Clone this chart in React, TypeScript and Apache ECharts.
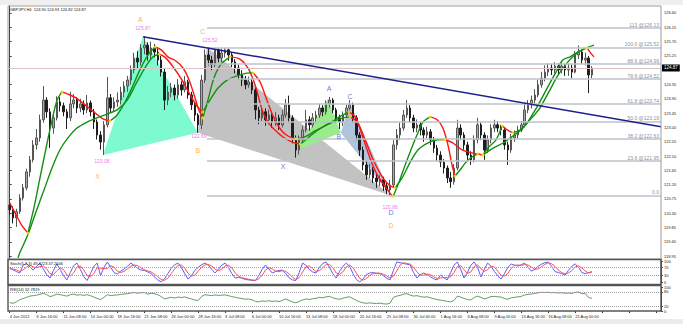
import React, { useEffect, useRef } from 'react';
import * as echarts from 'echarts';

const dateLabels = ['4 Jun 2012', '6 Jun 16:00', '11 Jun 08:00', '14 Jun 00:00', '18 Jun 16:00', '21 Jun 08:00', '26 Jun 00:00', '28 Jun 16:00', '3 Jul 08:00', '6 Jul 00:00', '10 Jul 16:00', '13 Jul 08:00', '18 Jul 00:00', '20 Jul 16:00', '25 Jul 08:00', '30 Jul 00:00', '1 Aug 16:00', '6 Aug 08:00', '9 Aug 00:00', '13 Aug 16:00', '16 Aug 08:00', '21 Aug 00:00'];

const firstOpen = 120.56;
const closes = [
  120.41, 120.15, 120.35, 120.78, 121.10, 121.60, 121.98, 122.45, 122.67, 123.24,
  123.86, 123.49, 122.98, 123.30, 123.80, 123.68, 123.49, 123.30, 123.74, 123.86,
  123.61, 123.74, 123.55, 123.77, 123.49, 123.17, 122.76, 122.54, 123.08, 123.93,
  123.61, 123.80, 123.86, 124.11, 124.30, 124.49, 124.81, 125.18, 125.06, 125.50,
  125.59, 125.28, 125.50, 125.37, 125.12, 124.74, 123.86, 124.11, 124.24, 124.02,
  124.34, 124.18, 124.43, 124.02, 123.71, 123.39, 123.08, 124.49, 125.28, 125.12,
  124.98, 125.44, 125.18, 125.34, 125.44, 125.28, 125.06, 124.87, 124.65, 124.49,
  124.34, 124.43, 124.18, 123.55, 123.30, 123.49, 123.24, 123.39, 123.17, 123.30,
  123.08, 123.39, 123.71, 123.30, 122.67, 122.29, 122.61, 122.92, 123.24, 123.08,
  123.30, 123.39, 123.61, 123.49, 123.74, 123.86, 123.55, 123.30, 123.17, 123.39,
  123.61, 123.71, 123.30, 122.76, 122.29, 121.82, 121.51, 121.66, 121.41, 121.29,
  121.35, 121.16, 121.03, 121.19, 122.45, 122.76, 122.98, 123.39, 123.61, 123.30,
  122.98, 123.08, 122.92, 122.76, 122.86, 122.61, 122.35, 122.13, 121.91, 121.72,
  121.41, 121.29, 121.72, 122.98, 122.76, 122.45, 122.13, 121.98, 122.61, 123.08,
  122.76, 122.29, 122.61, 122.98, 123.08, 122.98, 122.92, 122.45, 122.29, 122.67,
  122.76, 122.92, 123.08, 123.55, 123.71, 123.86, 124.02, 124.34, 124.55, 124.74,
  124.87, 124.81, 124.93, 124.81, 124.93, 124.81, 124.87, 124.74, 125.28, 125.37,
  125.12, 125.18, 124.65, 124.87,
];
const highs = [
  120.66, 120.52, 120.44, 120.90, 121.22, 121.70, 122.10, 122.60, 122.95, 123.40,
  124.30, 123.95, 123.60, 123.45, 123.98, 123.95, 123.78, 123.58, 124.12, 124.05,
  123.95, 123.90, 123.85, 124.02, 123.85, 123.58, 123.25, 122.88, 123.20, 124.59,
  124.05, 123.95, 124.10, 124.28, 124.45, 124.62, 124.95, 125.35, 125.40, 125.62,
  125.87, 125.68, 125.70, 125.62, 125.48, 125.25, 124.85, 124.30, 124.40, 124.35,
  124.52, 124.45, 124.62, 124.50, 124.12, 123.80, 123.45, 124.65, 125.45, 125.52,
  125.25, 125.50, 125.50, 125.48, 125.50, 125.48, 125.35, 125.15, 124.98, 124.80,
  124.62, 124.60, 124.52, 124.25, 123.65, 123.65, 123.60, 123.55, 123.45, 123.48,
  123.40, 123.55, 123.90, 124.00, 123.38, 122.75, 122.75, 123.05, 123.55, 123.35,
  123.45, 123.52, 123.75, 123.70, 123.85, 123.96, 123.92, 123.62, 123.40, 123.50,
  123.72, 123.86, 123.78, 123.38, 122.85, 122.40, 121.95, 121.85, 121.75, 121.55,
  121.50, 121.45, 121.25, 121.35, 122.60, 122.95, 123.15, 123.55, 123.86, 123.70,
  123.40, 123.25, 123.18, 123.00, 123.02, 122.95, 122.70, 122.45, 122.25, 122.00,
  121.80, 121.60, 121.85, 123.24, 123.10, 122.85, 122.55, 122.25, 122.75, 123.30,
  123.15, 122.85, 122.75, 123.10, 123.24, 123.20, 123.08, 123.00, 122.55, 122.80,
  122.90, 123.05, 123.20, 123.75, 123.86, 124.00, 124.20, 124.50, 124.75, 124.95,
  125.02, 125.00, 125.05, 125.02, 125.06, 125.00, 125.00, 124.98, 125.40, 125.58,
  125.45, 125.35, 125.25, 124.93,
];
const lows = [
  120.25, 119.98, 119.87, 120.28, 120.70, 121.02, 121.45, 121.90, 122.30, 122.55,
  123.15, 123.30, 122.35, 122.80, 123.22, 123.50, 123.35, 122.95, 123.20, 123.60,
  123.45, 123.48, 123.40, 123.45, 123.35, 122.95, 122.62, 122.30, 122.13, 123.00,
  123.45, 123.50, 123.65, 123.72, 123.95, 124.12, 124.35, 124.70, 124.85, 124.95,
  125.30, 125.10, 125.15, 125.20, 124.95, 124.60, 123.55, 123.70, 123.95, 123.85,
  123.90, 124.00, 124.10, 123.90, 123.55, 123.20, 122.83, 122.95, 124.40, 124.95,
  124.80, 124.90, 125.05, 125.05, 125.20, 125.10, 124.90, 124.70, 124.50, 124.30,
  124.20, 124.25, 124.05, 123.25, 123.10, 123.20, 123.05, 123.15, 122.98, 123.05,
  122.92, 123.00, 123.30, 123.15, 122.50, 122.05, 122.15, 122.50, 122.85, 122.90,
  123.00, 123.15, 123.30, 123.35, 123.40, 123.62, 123.45, 123.15, 122.95, 123.05,
  123.30, 123.50, 123.15, 122.60, 122.10, 121.65, 121.35, 121.40, 121.25, 121.10,
  121.15, 121.00, 120.90, 120.86, 121.10, 122.30, 122.60, 122.90, 123.30, 123.15,
  122.85, 122.85, 122.75, 122.55, 122.65, 122.45, 122.20, 121.95, 121.75, 121.55,
  121.25, 121.10, 121.20, 121.65, 122.60, 122.30, 121.98, 121.82, 121.90, 122.50,
  122.60, 121.98, 122.20, 122.50, 122.85, 122.85, 122.75, 122.30, 121.82, 122.20,
  122.55, 122.65, 122.85, 123.00, 123.45, 123.60, 123.75, 123.95, 124.25, 124.45,
  124.62, 124.65, 124.70, 124.65, 124.70, 124.62, 124.62, 124.55, 124.70, 125.15,
  125.00, 124.95, 124.08, 124.55,
];

// moving averages as [bar, price]
const fastMA = [[0, 120.63], [1.9, 120.25], [3.7, 119.90], [5.4, 119.68], [7.2, 120.47], [9.0, 121.41], [10.8, 122.35], [12.6, 123.24], [14.1, 123.86], [15.5, 124.12], [17.3, 124.05], [19.7, 123.93], [22.4, 123.71], [25.3, 123.46], [27.7, 123.27], [29.8, 123.20], [31.9, 123.39], [34.3, 123.80], [36.3, 124.24], [38.7, 124.81], [41.1, 125.28], [43.2, 125.53], [45.0, 125.44], [47.0, 125.22], [49.4, 125.09], [51.5, 124.87], [53.3, 124.49], [54.8, 124.02], [56.2, 123.55], [57.4, 123.30], [58.9, 123.86], [60.7, 124.56], [62.8, 124.99], [65.5, 125.22], [68.4, 125.15], [71.1, 124.81], [73.2, 124.24], [75.0, 123.55], [76.7, 123.17], [78.8, 122.92], [81.2, 122.70], [83.9, 122.54], [86.3, 122.48], [88.0, 122.61], [90.1, 122.80], [93.1, 123.02], [96.1, 123.20], [98.4, 123.36], [100.8, 123.49], [102.9, 123.30], [104.7, 122.76], [106.2, 122.29], [107.7, 121.85], [109.4, 121.47], [111.2, 121.19], [112.7, 120.97], [113.9, 120.82], [115.7, 121.29], [117.4, 121.79], [119.2, 122.29], [121.0, 122.76], [122.8, 123.17], [124.9, 123.33], [127.0, 123.24], [128.7, 122.98], [130.2, 122.45], [131.4, 121.82], [132.3, 121.47], [133.8, 121.66], [135.6, 121.91], [137.3, 122.07], [139.1, 122.17], [140.6, 122.13], [142.4, 122.39], [144.5, 122.61], [146.3, 123.05], [147.8, 122.92], [149.5, 122.83], [151.6, 122.92], [153.7, 123.14], [155.8, 123.49], [157.8, 123.86], [160.2, 124.34], [162.3, 124.74], [164.3, 125.12], [166.5, 125.22], [168.8, 125.37], [171.5, 125.50], [172.4, 125.37], [173.6, 125.22]];
const slowMA = [[2.5, 118.90], [3.1, 119.08], [5.4, 119.62], [7.8, 120.34], [10.2, 121.03], [12.6, 121.73], [14.9, 122.29], [17.3, 122.67], [20.0, 122.98], [23.0, 123.17], [25.9, 123.30], [28.9, 123.42], [31.9, 123.55], [34.9, 123.86], [37.8, 124.43], [40.5, 124.93], [42.6, 125.22], [44.4, 125.31], [46.4, 125.18], [48.8, 124.87], [51.2, 124.49], [53.5, 124.05], [55.6, 123.68], [57.4, 123.49], [59.5, 123.86], [61.9, 124.24], [64.6, 124.49], [67.5, 124.62], [70.5, 124.71], [72.3, 124.72], [74.4, 124.43], [76.4, 123.86], [78.5, 123.30], [80.6, 122.92], [82.7, 122.73], [85.1, 122.64], [87.7, 122.70], [90.7, 122.89], [93.7, 123.05], [96.6, 123.20], [99.0, 123.30], [101.1, 123.33], [103.2, 123.17], [105.6, 122.61], [108.0, 121.98], [110.3, 121.51], [112.7, 121.19], [114.5, 121.10], [116.6, 121.41], [119.0, 121.91], [121.3, 122.29], [124.3, 122.51], [127.0, 122.61], [129.3, 122.62], [131.7, 122.51], [134.4, 122.29], [137.3, 122.20], [140.6, 122.13], [143.6, 122.35], [146.6, 122.51], [149.5, 122.73], [151.9, 122.92], [154.6, 123.24], [157.5, 123.61], [160.5, 124.18], [162.6, 124.59], [165.3, 124.99], [167.9, 125.28], [170.6, 125.47], [173.6, 125.59]];

const stochK = [
  67, 58, 50, 43, 80, 88, 72, 57, 75, 90, 62, 35, 19, 55, 86, 60, 30, 10, 45, 78,
  90, 60, 25, 7, 40, 75, 90, 30, 70, 95, 70, 45, 38, 52, 62, 75, 90, 78, 65, 57,
  55, 48, 40, 25, 10, 0, 15, 40, 65, 82, 90, 70, 40, 14, 30, 55, 70, 82, 90, 80,
  60, 43, 60, 80, 90, 70, 40, 19, 22, 18, 12, 10, 8, 7, 30, 60, 81, 62, 43, 50,
  55, 57, 40, 20, 10, 7, 45, 90, 80, 60, 48, 43, 70, 88, 95, 70, 40, 19, 50, 75,
  90, 75, 40, 12, 0, 15, 35, 43, 45, 40, 40, 30, 18, 10, 55, 95, 92, 88, 85, 81,
  45, 19, 35, 43, 35, 25, 15, 10, 33, 20, 10, 45, 80, 95, 60, 19, 45, 80, 95, 70,
  24, 60, 90, 75, 50, 30, 14, 40, 70, 86, 80, 76, 82, 90, 70, 52, 60, 75, 85, 92,
  95, 75, 50, 45, 40, 33, 55, 75, 86, 70, 45, 40, 45, 49,
];
const stochD = [
  62, 62, 58, 50, 58, 70, 80, 72, 68, 74, 76, 62, 39, 36, 53, 67, 59, 33, 28, 44,
  71, 76, 58, 31, 24, 41, 68, 65, 63, 65, 78, 70, 51, 45, 51, 63, 76, 81, 78, 67,
  59, 53, 48, 38, 25, 12, 8, 18, 40, 62, 79, 81, 67, 41, 28, 33, 52, 69, 81, 84,
  77, 61, 54, 61, 77, 80, 67, 43, 27, 20, 17, 13, 10, 8, 15, 32, 57, 68, 62, 52,
  49, 54, 51, 39, 23, 12, 21, 47, 72, 77, 63, 50, 54, 67, 84, 84, 68, 43, 36, 48,
  72, 80, 68, 42, 17, 9, 17, 31, 41, 43, 42, 37, 29, 19, 28, 53, 81, 92, 88, 85,
  70, 48, 33, 32, 38, 34, 25, 17, 19, 21, 21, 25, 45, 73, 78, 58, 41, 48, 73, 82,
  63, 51, 58, 75, 72, 52, 31, 28, 41, 65, 79, 81, 79, 83, 81, 71, 61, 62, 73, 84,
  91, 87, 74, 57, 45, 39, 43, 54, 72, 77, 67, 52, 43, 47,
];
const rsiValues = [
  35, 32, 38, 47, 52, 57, 62, 64, 66, 70, 74, 68, 60, 64, 70, 68, 65, 62, 68, 70,
  66, 68, 65, 68, 64, 58, 52, 48, 57, 68, 64, 66, 67, 69, 71, 72, 75, 77, 74, 76,
  77, 70, 74, 72, 68, 60, 50, 54, 57, 54, 58, 56, 59, 54, 50, 46, 44, 60, 68, 66,
  64, 67, 65, 66, 67, 64, 60, 57, 54, 52, 49, 50, 47, 40, 38, 42, 40, 43, 40, 42,
  39, 44, 50, 44, 38, 34, 40, 46, 50, 48, 51, 53, 57, 55, 59, 61, 55, 51, 49, 53,
  57, 59, 52, 44, 38, 34, 32, 34, 32, 31, 33, 30, 29, 32, 57, 62, 65, 70, 72, 66,
  62, 64, 60, 58, 59, 55, 51, 48, 45, 43, 40, 38, 44, 62, 58, 52, 48, 46, 56, 62,
  57, 50, 55, 60, 61, 59, 58, 52, 49, 55, 57, 59, 61, 67, 69, 71, 73, 76, 78, 77,
  78, 76, 77, 75, 76, 74, 75, 73, 78, 79, 72, 73, 56, 53,
];

const priceTicks = [126.6, 126.15, 125.7, 125.25, 124.35, 123.9, 123.45, 123.0, 122.55, 122.1, 121.65, 121.2, 120.75, 120.3, 119.85, 119.4, 118.95];
const stochTicks = [0, 30, 70, 100];
const rsiTicks = [0, 20, 80, 100];
const stochLevels = [30, 70];
const rsiLevels = [20, 80];

const fibNames = ['113 @126.13', '100.0 @125.52', '88.6 @124.99', '78.6 @124.52', '61.8 @123.74', '50.0 @123.19', '38.2 @122.63', '23.6 @121.95', '0.0'];
const fibValues = [126.13, 125.52, 124.99, 124.52, 123.74, 123.19, 122.63, 121.95, 120.86];
const fibStartBar = 58.6;

const trendLine = [[39.6, 125.85], [193.5, 123.02]];
const lastPrice = 124.87;

const patternTriangles = [
  [[27.7, 122.13], [39.6, 125.87], [55.9, 122.83]],
  [[55.9, 122.83], [58.6, 125.52], [113.3, 120.86]],
  [[85.4, 122.29], [94.6, 123.90], [98.4, 122.83]],
  [[98.4, 122.83], [101.1, 123.77], [113.6, 120.81]],
];
const patternLabels = [
  { t: 'A', p: [38.8, 126.41], k: 'orange' },
  { t: '125.87', p: [39.6, 126.13], k: 'price' },
  { t: 'C', p: [57.4, 126.03], k: 'orange' },
  { t: '125.52', p: [59.5, 125.75], k: 'price' },
  { t: '122.69', p: [56.2, 122.74], k: 'price' },
  { t: 'B', p: [55.9, 122.26], k: 'orange' },
  { t: '123.08', p: [27.4, 121.93], k: 'price' },
  { t: 'X', p: [26.1, 121.47], k: 'orange' },
  { t: '120.86', p: [113.0, 120.50], k: 'price' },
  { t: 'D', p: [113.3, 120.31], k: 'blue' },
  { t: 'D', p: [113.3, 119.90], k: 'orange' },
  { t: 'A', p: [94.9, 124.24], k: 'blue' },
  { t: 'C', p: [101.1, 123.96], k: 'blue' },
  { t: 'B', p: [97.8, 122.70], k: 'blue' },
  { t: 'X', p: [81.2, 121.76], k: 'blue' },
];

const N = 194;
const FONT = 'Liberation Sans, Arial, sans-serif';
const triColors = ['#7dfad0', '#c2c2c2', '#98ec8c', '#aec4de'];
const labelStyles: Record<string, { color: string; size: number }> = {
  orange: { color: '#ff9a1e', size: 7 },
  price: { color: '#f04cf0', size: 5 },
  blue: { color: '#4e4ed0', size: 7 },
};

function splitBySlope(pts: number[][]) {
  const segs: { dir: number; pts: number[][] }[] = [];
  const turns: number[][] = [];
  let cur = [pts[0]];
  let dir = 0;
  for (let i = 1; i < pts.length; i++) {
    const d = Math.sign(pts[i][1] - pts[i - 1][1]);
    if (dir !== 0 && d !== 0 && d !== dir) {
      segs.push({ dir, pts: cur });
      turns.push(pts[i - 1]);
      cur = [pts[i - 1]];
    }
    if (d !== 0) dir = d;
    cur.push(pts[i]);
  }
  segs.push({ dir, pts: cur });
  return { segs, turns };
}

export default function App() {
  const ref = useRef<HTMLDivElement>(null);
  useEffect(() => {
    const chart = echarts.init(ref.current!, null, { renderer: 'svg' });
    const cats = Array.from({ length: N }, (_, i) => 'b' + i);
    const ohlc = closes.map((c, i) => [i === 0 ? firstOpen : closes[i - 1], c, lows[i], highs[i]]);

    const maSeries: any[] = [];
    const turnPts: number[][] = [];
    [fastMA, slowMA].forEach((ma) => {
      const { segs, turns } = splitBySlope(ma);
      segs.forEach((s) => {
        maSeries.push({
          type: 'line', xAxisIndex: 1, yAxisIndex: 0, data: s.pts, symbol: 'none', smooth: 0.3, silent: true, z: 4,
          lineStyle: { color: s.dir > 0 ? '#138f13' : '#ff1414', width: 1.4 },
        });
      });
      turnPts.push(...turns);
    });

    const dotted = { type: 'dotted', color: '#a0a0a0', width: 1 };

    const option: any = {
      animation: false,
      textStyle: { fontFamily: FONT },
      grid: [
        { left: 8, top: 6, width: 653, height: 253 },
        { left: 8, top: 261, width: 653, height: 21 },
        { left: 8, top: 287, width: 653, height: 24 },
      ],
      xAxis: [
        { type: 'category', gridIndex: 0, data: cats, boundaryGap: true, show: false },
        { type: 'value', gridIndex: 0, min: -0.5, max: N - 0.5, show: false },
        { type: 'category', gridIndex: 1, data: cats, boundaryGap: true, show: false },
        {
          type: 'category', gridIndex: 2, data: cats, boundaryGap: true,
          axisLine: { show: false },
          axisTick: { show: true, interval: 7, alignWithLabel: true, length: 2, lineStyle: { color: '#333' } },
          axisLabel: {
            interval: 7, align: 'left', fontSize: 4, color: '#222', margin: 3, fontFamily: FONT,
            formatter: (_v: string, idx: number) => (idx % 8 === 0 ? dateLabels[idx / 8] ?? '' : ''),
          },
        },
      ],
      yAxis: [
        {
          type: 'value', gridIndex: 0, position: 'right', min: 118.86, max: 126.82, splitLine: { show: false },
          axisLine: { show: true, lineStyle: { color: '#444' } },
          axisTick: { show: true, customValues: priceTicks, length: 2, lineStyle: { color: '#444' } },
          axisLabel: { customValues: priceTicks, formatter: (v: number) => v.toFixed(2), fontSize: 4, color: '#222', margin: 3, fontFamily: FONT },
        },
        {
          type: 'value', gridIndex: 1, position: 'right', min: 0, max: 100, splitLine: { show: false },
          axisLine: { show: true, lineStyle: { color: '#444' } },
          axisTick: { show: true, customValues: stochTicks, length: 2, lineStyle: { color: '#444' } },
          axisLabel: { customValues: stochTicks, fontSize: 4, color: '#222', margin: 3, fontFamily: FONT },
        },
        {
          type: 'value', gridIndex: 2, position: 'right', min: 0, max: 100, splitLine: { show: false },
          axisLine: { show: true, lineStyle: { color: '#444' } },
          axisTick: { show: true, customValues: rsiTicks, length: 2, lineStyle: { color: '#444' } },
          axisLabel: { customValues: rsiTicks, fontSize: 4, color: '#222', margin: 3, fontFamily: FONT },
        },
      ],
      series: [
        {
          type: 'custom', xAxisIndex: 1, yAxisIndex: 0, z: 1, silent: true,
          data: patternTriangles.map((t, i) => [t[0][0], t[0][1], i]),
          renderItem: (params: any, api: any) => {
            const tri = patternTriangles[params.dataIndex];
            return {
              type: 'polygon',
              shape: { points: tri.map((p) => api.coord(p)) },
              style: { fill: triColors[params.dataIndex], stroke: 'none' },
            };
          },
        },
        {
          type: 'line', xAxisIndex: 1, yAxisIndex: 0, z: 1, silent: true, symbol: 'none',
          data: [[fibStartBar, fibValues[0]]],
          markLine: {
            silent: true, symbol: ['none', 'none'], animation: false,
            lineStyle: { color: '#bcc3cb', width: 1.5, type: 'solid' },
            label: { show: true, position: 'insideEndTop', formatter: '{b}', fontSize: 5, color: '#8791a3', distance: [2, 0.5], fontFamily: FONT },
            data: fibValues.map((v, i) => [{ name: fibNames[i], coord: [fibStartBar, v] }, { coord: [N - 0.5, v] }]),
          },
        },
        {
          type: 'candlestick', xAxisIndex: 0, yAxisIndex: 0, z: 2, silent: true, barWidth: 2,
          data: ohlc,
          itemStyle: { color: '#a8a8a8', color0: '#1e1e1e', borderColor: '#555', borderColor0: '#1e1e1e', borderWidth: 1 },
          markLine: {
            silent: true, symbol: ['none', 'none'], animation: false,
            lineStyle: { color: '#dcc4c4', width: 1, type: 'solid' },
            label: { show: true, position: 'end', formatter: lastPrice.toFixed(2), color: '#fff', backgroundColor: '#000', fontSize: 4.5, padding: [1, 2], distance: 1, fontFamily: FONT },
            data: [{ yAxis: lastPrice }],
          },
        },
        ...maSeries,
        {
          type: 'scatter', xAxisIndex: 1, yAxisIndex: 0, z: 5, silent: true, symbolSize: 3,
          itemStyle: { color: '#ffe600' }, data: turnPts,
        },
        {
          type: 'line', xAxisIndex: 1, yAxisIndex: 0, z: 5, silent: true, symbol: 'none',
          data: trendLine, lineStyle: { color: '#1e1e8c', width: 1.5 },
        },
        {
          type: 'scatter', xAxisIndex: 1, yAxisIndex: 0, z: 6, silent: true, symbolSize: 1,
          itemStyle: { color: 'rgba(0,0,0,0)' },
          data: patternLabels.map((l) => ({
            value: l.p,
            label: { show: true, position: 'inside', formatter: l.t, color: labelStyles[l.k].color, fontSize: labelStyles[l.k].size, fontFamily: FONT },
          })),
        },
        {
          type: 'line', xAxisIndex: 2, yAxisIndex: 1, data: stochK, symbol: 'none', silent: true,
          lineStyle: { color: '#5a5aff', width: 1 },
          markLine: { silent: true, symbol: ['none', 'none'], label: { show: false }, lineStyle: dotted, data: stochLevels.map((v) => ({ yAxis: v })) },
        },
        {
          type: 'line', xAxisIndex: 2, yAxisIndex: 1, data: stochD, symbol: 'none', silent: true,
          lineStyle: { color: '#ff5252', width: 1 },
        },
        {
          type: 'line', xAxisIndex: 3, yAxisIndex: 2, data: rsiValues, symbol: 'none', silent: true,
          lineStyle: { color: '#5f9e5f', width: 1 },
          markLine: { silent: true, symbol: ['none', 'none'], label: { show: false }, lineStyle: dotted, data: rsiLevels.map((v) => ({ yAxis: v })) },
        },
      ],
      graphic: [
        { type: 'rect', left: 0, top: 0, shape: { width: 683, height: 5 }, style: { fill: '#efefef' }, z: -1 },
        { type: 'rect', left: 0, top: 319, shape: { width: 683, height: 5 }, style: { fill: '#ececec' }, z: -1 },
        { type: 'rect', x: 8, y: 6, shape: { width: 653, height: 253 }, style: { fill: 'none', stroke: '#9a9a9a', lineWidth: 1 }, z: 10 },
        { type: 'rect', x: 8, y: 259.5, shape: { width: 653, height: 25 }, style: { fill: 'none', stroke: '#555', lineWidth: 1.6 }, z: 10 },
        { type: 'rect', x: 8, y: 285.5, shape: { width: 653, height: 25.5 }, style: { fill: 'none', stroke: '#555', lineWidth: 1.4 }, z: 10 },
        { type: 'text', x: 10, y: 7, style: { text: 'GBPJPY,H4  124.90 124.93 124.82 124.87', fontSize: 4, fill: '#111', fontFamily: FONT }, z: 10 },
        { type: 'text', x: 10, y: 261.5, style: { text: 'Stoch(5,3,3) 49.4223 47.2646', fontSize: 4, fill: '#111', fontFamily: FONT }, z: 10 },
        { type: 'text', x: 10, y: 287.5, style: { text: 'RSI(14) 52.7819', fontSize: 4, fill: '#111', fontFamily: FONT }, z: 10 },
      ],
    };
    chart.setOption(option);
    return () => chart.dispose();
  }, []);
  return <div ref={ref} style={{ position: 'fixed', left: 0, top: 0, width: 683, height: 324, background: '#fff' }} />;
}
